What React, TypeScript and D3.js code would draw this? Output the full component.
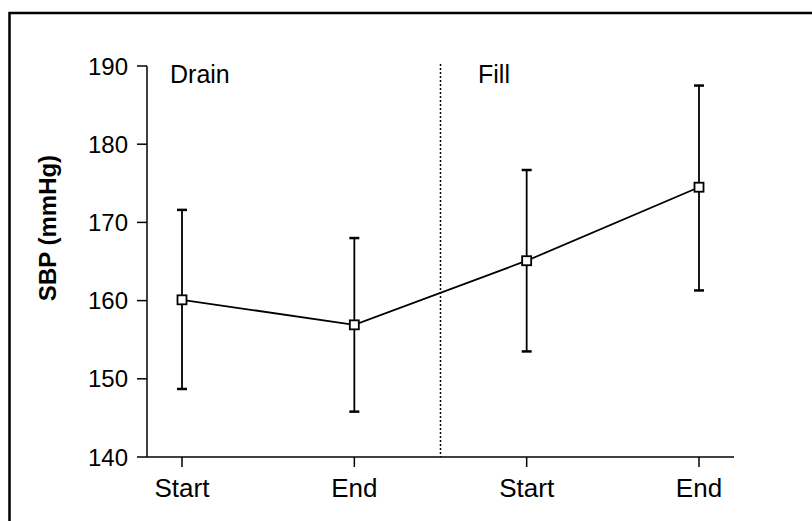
import React from "react";
import * as d3 from "d3";

const pointIds = ["drainStart", "drainEnd", "fillStart", "fillEnd"];
const pointLabels = ["Start", "End", "Start", "End"];
const phaseLabels = ["Drain", "Fill"];
const meanValues = [160.1, 156.9, 165.1, 174.5];
const upperValues = [171.6, 168.0, 176.7, 187.5];
const lowerValues = [148.7, 145.8, 153.5, 161.3];
const yTicks = [140, 150, 160, 170, 180, 190];

const W = 812;
const H = 521;
const FONT = "'Liberation Sans', Arial, Helvetica, sans-serif";

export default function App() {
  const axisLeft = 147;
  const axisRight = 734;
  const y = d3.scaleLinear().domain([140, 190]).range([457, 66]);
  const x = d3.scalePoint<string>().domain(pointIds).range([182, 699]);
  const line = d3
    .line<number>()
    .x((_, i) => x(pointIds[i]) as number)
    .y((d) => y(d));
  const divider = ((x(pointIds[1]) as number) + (x(pointIds[2]) as number)) / 2;
  const cap = 5;
  const m = 4.5;

  return (
    <svg
      width={W}
      height={H}
      style={{ position: "absolute", left: 0, top: 0, background: "#fff" }}
    >
      <rect x={0} y={0} width={W} height={H} fill="#fff" />
      <path d={`M9.5,${H + 5} V13 H${W + 5}`} fill="none" stroke="#000" strokeWidth={2.5} />

      {/* y axis */}
      <line x1={axisLeft} x2={axisLeft} y1={y(190)} y2={y(140)} stroke="#000" strokeWidth={1.5} />
      {yTicks.map((t) => (
        <g key={t}>
          <line x1={axisLeft - 10} x2={axisLeft} y1={y(t)} y2={y(t)} stroke="#000" strokeWidth={1.5} />
          <text
            x={128}
            y={y(t)}
            dy="0.36em"
            textAnchor="end"
            fontFamily={FONT}
            fontSize={24}
            fill="#000"
          >
            {t}
          </text>
        </g>
      ))}

      {/* x axis */}
      <line x1={axisLeft} x2={axisRight} y1={y(140)} y2={y(140)} stroke="#000" strokeWidth={1.5} />
      {pointIds.map((id, i) => (
        <g key={id}>
          <line
            x1={x(id) as number}
            x2={x(id) as number}
            y1={y(140)}
            y2={y(140) + 10}
            stroke="#000"
            strokeWidth={1.5}
          />
          <text
            x={x(id) as number}
            y={497}
            textAnchor="middle"
            fontFamily={FONT}
            fontSize={26}
            fill="#000"
          >
            {pointLabels[i]}
          </text>
        </g>
      ))}

      {/* y title */}
      <text
        transform={`translate(56,${228}) rotate(-90)`}
        textAnchor="middle"
        fontFamily={FONT}
        fontSize={24}
        fontWeight="bold"
        fill="#000"
      >
        SBP (mmHg)
      </text>

      {/* divider */}
      <line
        x1={divider}
        x2={divider}
        y1={64}
        y2={y(140)}
        stroke="#000"
        strokeWidth={1.5}
        strokeDasharray="2,2"
      />
      <text x={170} y={83} fontFamily={FONT} fontSize={25} fill="#000">
        {phaseLabels[0]}
      </text>
      <text x={478} y={83} fontFamily={FONT} fontSize={25} fill="#000">
        {phaseLabels[1]}
      </text>

      {/* error bars */}
      {pointIds.map((id, i) => {
        const cx = x(id) as number;
        return (
          <g key={id} stroke="#000" strokeWidth={1.8}>
            <line x1={cx} x2={cx} y1={y(upperValues[i])} y2={y(lowerValues[i])} />
            <line x1={cx - cap} x2={cx + cap} y1={y(upperValues[i])} y2={y(upperValues[i])} strokeWidth={2.5} />
            <line x1={cx - cap} x2={cx + cap} y1={y(lowerValues[i])} y2={y(lowerValues[i])} strokeWidth={2.5} />
          </g>
        );
      })}

      {/* mean line */}
      <path d={line(meanValues) || ""} fill="none" stroke="#000" strokeWidth={1.8} />
      {pointIds.map((id, i) => (
        <rect
          key={id}
          x={(x(id) as number) - m}
          y={y(meanValues[i]) - m}
          width={2 * m}
          height={2 * m}
          fill="#fff"
          stroke="#000"
          strokeWidth={1.8}
        />
      ))}
    </svg>
  );
}
